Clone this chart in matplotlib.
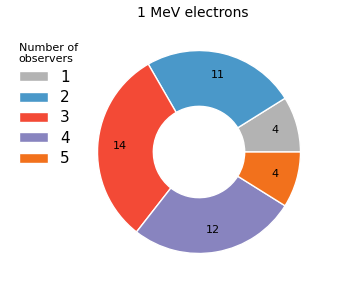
import matplotlib
matplotlib.use("Agg")
import matplotlib.pyplot as plt

categories = ["1", "2", "3", "4", "5"]
values = [4, 11, 14, 12, 4]
colors = ["#b3b3b3", "#4a98c9", "#f34a36", "#8884bf", "#f2711c"]

fig = plt.figure(figsize=(3.59, 3.01), dpi=100)
ax = fig.add_axes([97/359, 47/301, 204/359, 204/301])
wedges, texts = ax.pie(values, colors=colors, startangle=0, counterclock=True,
                       labels=[str(v) for v in values], labeldistance=0.78,
                       wedgeprops=dict(width=0.55, edgecolor="white", linewidth=1),
                       textprops=dict(fontsize=8, ha="center", va="center"))
for t in texts:
    t.set_horizontalalignment("center")
ax.set_aspect("equal")
ax.set_xlim(-1.005, 1.005)
ax.set_ylim(-1.005, 1.005)
fig.text(193/359, 1 - 13/301, "1 MeV electrons", ha="center", va="center", fontsize=10)
leg = fig.legend(wedges, categories, title="Number of\nobservers", loc="upper left",
                 bbox_to_anchor=(5/359, 1 - 29/301), frameon=False, fontsize=11,
                 title_fontsize=8, handlelength=1.9, handleheight=0.65, labelspacing=0.35,
                 handletextpad=0.8)
leg._legend_box.align = "left"
fig.savefig("out.png", dpi=100)
